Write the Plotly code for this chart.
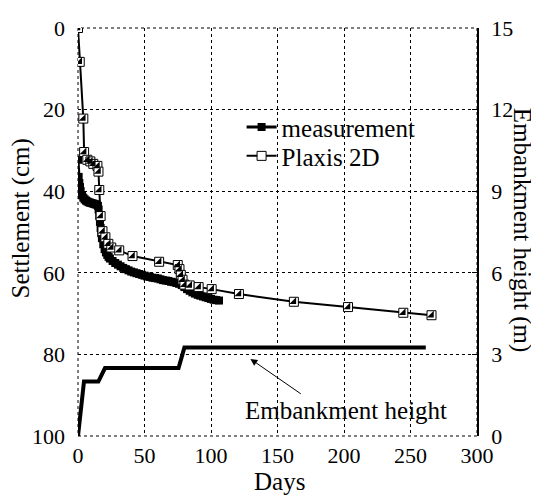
import plotly.graph_objects as go

# Measurement (days, settlement cm)
meas_days = [0, 0.5, 1, 1.5, 2, 3, 4, 5, 6, 7, 8, 9, 10, 11, 12, 13, 14, 15, 15.5, 16, 16.5,
             17, 17.5, 18, 19, 20, 21, 22, 23, 24, 26, 28, 30, 32, 34, 36, 38, 40, 42, 44,
             46, 48, 50, 52, 54, 56, 58, 60, 62, 64, 66, 68, 70, 72, 74, 76, 78, 80, 82,
             84, 86, 88, 90, 92, 94, 96, 98, 100, 102, 104, 106]
meas_cm = [32.3, 36.5, 38, 39, 40, 41, 41.6, 42, 42.3, 42.5, 42.7, 42.8, 42.9, 43.0, 43.1,
           43.2, 43.3, 43.6, 44.5, 46, 47.5, 49, 50.3, 51.5, 53, 54.2, 55, 55.6, 56.1, 56.5,
           57.1, 57.6, 58.0, 58.4, 58.8, 59.1, 59.4, 59.7, 59.9, 60.1, 60.3, 60.5, 60.7,
           60.9, 61.0, 61.2, 61.3, 61.4, 61.6, 61.8, 61.9, 62.0, 62.2, 62.3, 62.5, 62.7,
           63.0, 63.5, 64.0, 64.4, 64.8, 65.1, 65.4, 65.6, 65.8, 66.0, 66.2, 66.4, 66.6,
           66.7, 66.8]

# Plaxis 2D (days, settlement cm)
plx_days = [0, 1.3, 4, 4.6, 7, 9.3, 11.5, 14.6, 15.4, 16, 17, 18.4, 20.6, 22.8, 25, 31,
            41, 61, 75, 76.3, 77.3, 78.6, 80, 84, 90.7, 100.5, 121, 162.3, 203, 244.6, 265.8]
plx_cm = [0, 8.3, 22.2, 30.4, 32.3, 32.7, 33.3, 33.8, 35.2, 39.7, 46.1, 49.8, 51.3, 52.9,
          53.8, 54.5, 55.9, 57.3, 58.1, 59.1, 60.5, 61.7, 62.9, 63.1, 63.5, 64.0, 65.2,
          67.1, 68.4, 69.8, 70.4]

# Embankment height (days, m)
emb_days = [0, 4.5, 15.3, 20.3, 75.6, 80, 261.5]
emb_m = [0, 2.0, 2.0, 2.5, 2.5, 3.25, 3.25]

FONT = "Liberation Serif"

fig = go.Figure()

fig.add_trace(go.Scatter(
    x=emb_days, y=emb_m, yaxis="y2", mode="lines",
    line=dict(color="black", width=4), showlegend=False))

fig.add_trace(go.Scatter(
    x=meas_days, y=meas_cm, mode="lines+markers", name="measurement", legend="legend",
    line=dict(color="black", width=3),
    marker=dict(symbol="square", size=8, color="black")))

fig.add_trace(go.Scatter(
    x=plx_days, y=plx_cm, mode="lines+markers", name="Plaxis 2D", legend="legend2",
    line=dict(color="black", width=2),
    marker=dict(symbol="square", size=9, color="white",
                line=dict(color="black", width=1))))

fig.add_trace(go.Scatter(
    x=plx_days, y=plx_cm, mode="markers", showlegend=False,
    marker=dict(symbol="triangle-se", size=7.5, color="black", line=dict(width=0))))

grid = dict(showgrid=True, gridcolor="black", gridwidth=1, griddash="dot",
            zeroline=False, showline=False)

leg = dict(xanchor="left", yanchor="middle", bgcolor="rgba(0,0,0,0)",
           font=dict(size=25, family=FONT))

fig.update_layout(
    width=531, height=492,
    margin=dict(l=70, r=62, t=8, b=64),
    paper_bgcolor="white", plot_bgcolor="white",
    font=dict(family=FONT, size=22, color="black"),
    xaxis=dict(range=[0, 300], dtick=50, tick0=0, ticks="", ticklabelstandoff=4,
               ticklabeloverflow="allow", **grid),
    yaxis=dict(range=[100, 0], dtick=20, tick0=0, ticks="", ticklabelstandoff=12,
               ticklabeloverflow="allow", **grid),
    yaxis2=dict(range=[0, 15], dtick=3, tick0=0, overlaying="y", side="right",
                showgrid=False, zeroline=False, showline=True, linecolor="black",
                linewidth=1.5, ticks="inside", ticklen=5, tickcolor="black",
                ticklabelstandoff=8, ticklabeloverflow="allow"),
    legend=dict(x=0.41, y=0.757, **leg),
    legend2=dict(x=0.41, y=0.686, **leg),
    showlegend=True,
    shapes=[dict(type="rect", xref="paper", yref="paper", x0=0, y0=0, x1=1, y1=1,
                 line=dict(color="black", width=1, dash="dot"), layer="below")],
)

anns = [
    dict(text="Settlement (cm)", xref="paper", yref="paper", x=-0.143, y=0.533,
         xanchor="center", yanchor="middle",
         textangle=-90, showarrow=False, font=dict(size=25)),
    dict(text="Embankment height (m)", xref="paper", yref="paper", x=1.113, y=0.505,
         xanchor="center", yanchor="middle",
         textangle=90, showarrow=False, font=dict(size=25)),
    dict(text="Days", xref="paper", yref="paper", x=0.504, y=-0.112,
         xanchor="center", yanchor="middle", showarrow=False, font=dict(size=25)),
    dict(text="Embankment height", xref="x", yref="y", x=201.6, y=93.8,
         xanchor="center", yanchor="middle", showarrow=False, font=dict(size=25)),
    dict(text="", xref="x", yref="y", x=129.6, y=81.1, axref="x", ayref="y",
         ax=168.6, ay=89.9, showarrow=True, arrowhead=2, arrowsize=1.4,
         arrowwidth=1, arrowcolor="black"),
]
fig.update_layout(annotations=anns)

fig.write_html("out.html")
